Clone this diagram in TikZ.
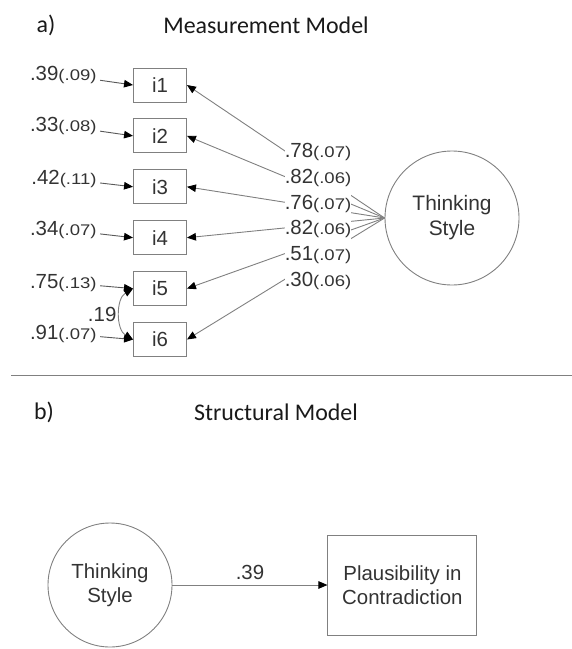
\documentclass[tikz,border=0pt]{standalone}
\usepackage{fontspec}
\setmainfont{Liberation Sans}
\newfontfamily\headfont{Carlito}
\newfontfamily\sefont[FakeStretch=1.2]{Liberation Sans}
\usepackage{tikz}
\usetikzlibrary{positioning,arrows.meta}

\newcommand{\est}[2]{#1{\sefont\fontsize{15.5}{17}\selectfont(#2)}}

\begin{document}
\begin{tikzpicture}[x=1bp, y=-1bp,
  > = {Triangle[length=9bp,width=7.5bp,color=black]},
  font=\fontsize{20.5}{24}\selectfont, text=black!80,
  head/.style={font=\headfont\fontsize{24}{28}\selectfont, text=black!90},
  item/.style={draw=gray, line width=0.9bp, minimum width=53bp, minimum height=34bp, inner sep=0pt},
  latent/.style={draw=gray, line width=0.9bp, circle, inner sep=0pt, align=center},
  loading/.style={fill=white, inner sep=0pt, minimum height=25.4bp},
  path/.style={->, draw=gray, line width=0.9bp}]
\useasboundingbox (0,0) rectangle (572,649);

% a) measurement model
\node (ta) [head] at (46,25) {a)};
\node (mm) [head] at (266,25) {Measurement Model};

\node (i1) [item] at (160,85) {i1};
\node (i2) [item, below=16bp of i1] {i2};
\node (i3) [item, below=16bp of i2] {i3};
\node (i4) [item, below=16bp of i3] {i4};
\node (i5) [item, below=16bp of i4] {i5};
\node (i6) [item, below=16bp of i5] {i6};

\node (ts) [latent, minimum size=134bp, font=\fontsize{21}{25}\selectfont] at (452,218) {Thinking\\Style};

\node (e1) [left=33bp of i1, yshift=10bp] {\est{.39}{.09}};
\node (e2) [left=33bp of i2, yshift=10bp] {\est{.33}{.08}};
\node (e3) [left=33bp of i3, yshift=8bp] {\est{.42}{.11}};
\node (e4) [left=33bp of i4, yshift=8bp] {\est{.34}{.07}};
\node (e5) [left=33bp of i5, yshift=6bp] {\est{.75}{.13}};
\node (e6) [left=33bp of i6, yshift=6bp] {\est{.91}{.07}};

\draw[path, draw=gray!70!black] (e1) -- (i1.west);
\draw[path, draw=gray!70!black] (e2) -- (i2.west);
\draw[path, draw=gray!70!black] (e3) -- (i3.west);
\draw[path, draw=gray!70!black] (e4) -- (i4.west);
\draw[path, draw=gray!70!black] (e5) -- (i5.west);
\draw[path, draw=gray!70!black] (e6) -- (i6.west);

\draw[path, <->] (i5.west) to[bend right=60] node[left] {.19} (i6.west);

\draw[path] (ts.west) -- (i1.east);
\draw[path] (ts.west) -- (i2.east);
\draw[path] (ts.west) -- (i3.east);
\draw[path] (ts.west) -- (i4.east);
\draw[path] (ts.west) -- (i5.east);
\draw[path] (ts.west) -- (i6.east);

% loadings sit on top of the paths
\node (l1) [loading] at (318,152) {\est{.78}{.07}};
\node (l2) [loading, below=0pt of l1] {\est{.82}{.06}};
\node (l3) [loading, below=0pt of l2] {\est{.76}{.07}};
\node (l4) [loading, below=0pt of l3] {\est{.82}{.06}};
\node (l5) [loading, below=0pt of l4] {\est{.51}{.07}};
\node (l6) [loading, below=0pt of l5] {\est{.30}{.06}};

% divider
\coordinate (dl) at (11,375);
\coordinate (dr) at (572,375);
\draw[gray, line width=0.9bp] (dl) -- (dr);

% b) structural model
\node (tb) [head] at (44,412) {b)};
\node (sm) [head] at (276,412) {Structural Model};

\node (ts2) [latent, minimum size=124bp] at (110,585) {Thinking\\Style};
\node (pc) [draw=gray, line width=0.9bp, minimum width=149bp, minimum height=100bp, align=center, right=155bp of ts2] {Plausibility in\\Contradiction};

\draw[path] (ts2) -- node[above=2bp] {.39} (pc);
\end{tikzpicture}
\end{document}
